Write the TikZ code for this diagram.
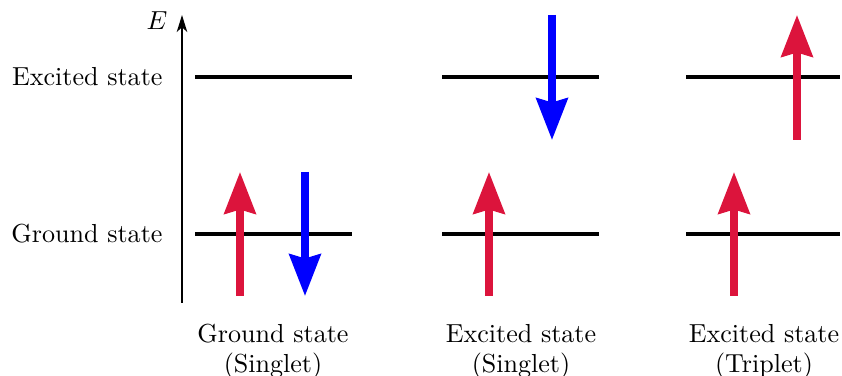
\documentclass[tikz,border=0pt]{standalone}
\usetikzlibrary{arrows.meta}
\definecolor{spinred}{RGB}{220,20,60}
\definecolor{spinblue}{RGB}{0,0,255}
\begin{document}
\begin{tikzpicture}[x=0.3837pt,y=-0.3837pt,
  level/.style={line width=1.6pt},
  spin/.style={line width=2.7pt,-{Stealth[length=16pt,width=12pt,inset=1.6pt]}},
  lbl/.style={inner sep=0pt,font=\normalsize},
  axisline/.style={line width=0.75pt,-{Stealth[length=6.5pt,width=4pt,inset=1.8pt]}}]
\useasboundingbox (0,0) rectangle (842,376);
% axis
\coordinate (ax0) at (182,303);
\coordinate (ax1) at (182,15);
\draw[axisline] (ax0) -- (ax1);
\node[lbl] (E) at (157,21) {$E$};
% side labels
\node[lbl,anchor=east] (lex) at (163,77) {Excited state};
\node[lbl,anchor=east] (lgr) at (163,234) {Ground state};
% levels
\foreach \n/\a/\b in {1/195/352,2/442/599,3/686/840}{
  \coordinate (ex\n a) at (\a,77); \coordinate (ex\n b) at (\b,77);
  \coordinate (gr\n a) at (\a,234); \coordinate (gr\n b) at (\b,234);
  \draw[level] (ex\n a) -- (ex\n b);
  \draw[level] (gr\n a) -- (gr\n b);
}
% spins column 1
\coordinate (s1a) at (240,296); \coordinate (s1b) at (240,172);
\coordinate (s2a) at (305,172); \coordinate (s2b) at (305,296);
\draw[spin,spinred] (s1a) -- (s1b);
\draw[spin,spinblue] (s2a) -- (s2b);
% column 2
\coordinate (s3a) at (489,296); \coordinate (s3b) at (489,172);
\coordinate (s4a) at (552,15); \coordinate (s4b) at (552,140);
\draw[spin,spinred] (s3a) -- (s3b);
\draw[spin,spinblue] (s4a) -- (s4b);
% column 3
\coordinate (s5a) at (734,296); \coordinate (s5b) at (734,172);
\coordinate (s6a) at (797,140); \coordinate (s6b) at (797,15);
\draw[spin,spinred] (s5a) -- (s5b);
\draw[spin,spinred] (s6a) -- (s6b);
% bottom labels
\node[lbl,anchor=base] (b1t) at (273,343) {Ground state};
\node[lbl,anchor=base] (b1s) at (273,373) {(Singlet)};
\node[lbl,anchor=base] (b2t) at (521,343) {Excited state};
\node[lbl,anchor=base] (b2s) at (521,373) {(Singlet)};
\node[lbl,anchor=base] (b3t) at (764,343) {Excited state};
\node[lbl,anchor=base] (b3s) at (764,373) {(Triplet)};
\end{tikzpicture}
\end{document}
